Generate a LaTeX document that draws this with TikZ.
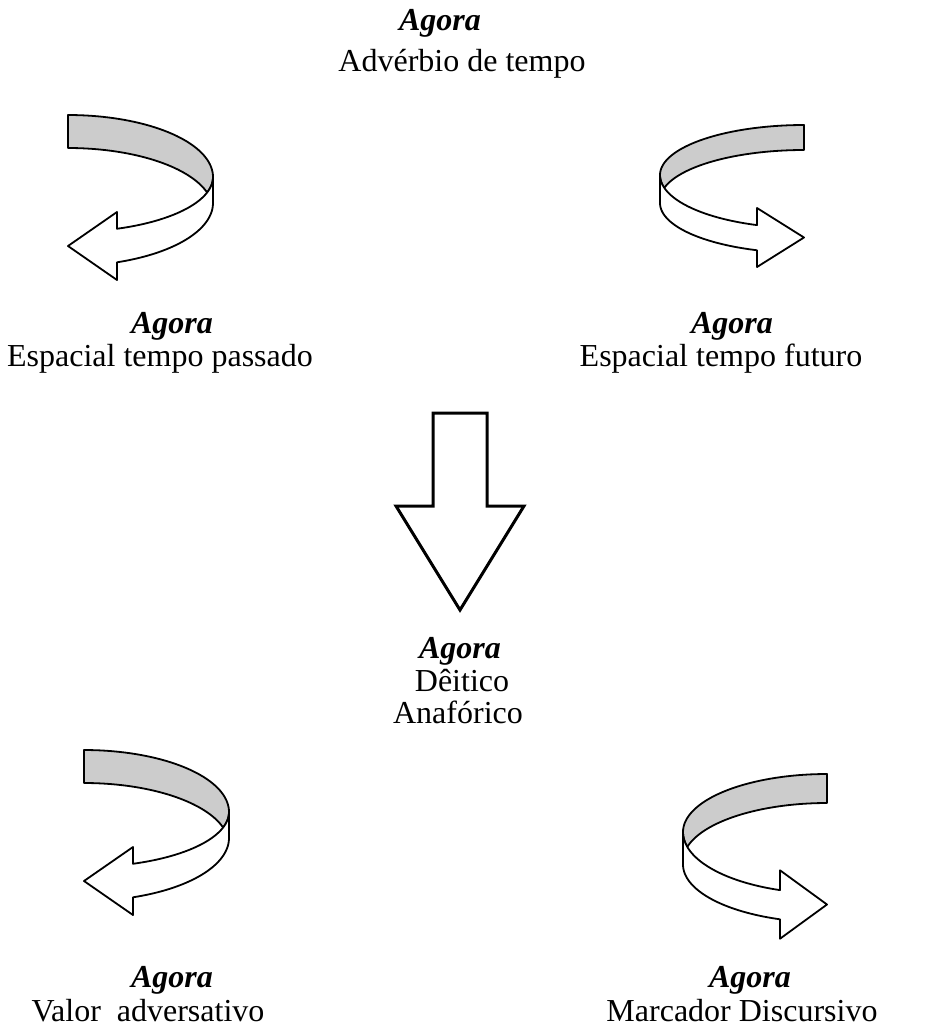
\documentclass[tikz,border=0pt]{standalone}
\usepackage{fontspec}
\setmainfont{Liberation Serif}
\definecolor{ribbongray}{RGB}{204,204,204}
\tikzset{
  ribbon/.style={draw=black, line width=1.8pt, line join=round},
  bigarrow/.style={draw=black, line width=3pt, line join=miter, fill=white},
  lbl/.style={anchor=base, inner sep=0pt, font=\fontsize{32}{34}\selectfont},
  ttl/.style={anchor=base, inner sep=0pt, font=\fontsize{32}{34}\selectfont\bfseries\itshape},
}
% #1 a, #2 b, #3 h, #4 bL, #5 hr, #6 bB, #7 hx, #8 barb1, #9 barb2
\newcommand\turnribbon[9]{%
  \pgfmathsetmacro\tw{asin(#3/(#2+#4))}%
  \pgfmathsetmacro\th{acos(#7/#1)}%
  \pgfmathsetmacro\tipy{(#8+#9)/2}%
  \draw[ribbon, fill=ribbongray] (0,0)
    -- plot[variable=\t, domain=90:0, samples=40] ({#1*cos(\t)},{#2-#2*sin(\t)})
    -- plot[variable=\t, domain=0:\tw, samples=15] ({#1*cos(\t)},{#2+#4*sin(\t)})
    -- plot[variable=\t, domain=\tw:90, samples=40] ({#1*cos(\t)},{#2+#3-#2*sin(\t)})
    -- cycle;
  \draw[ribbon, fill=white] (#1,#2) -- (#1,#2+#5)
    -- plot[variable=\t, domain=0:\th, samples=40] ({#1*cos(\t)},{#2+#5+#6*sin(\t)})
    -- (#7,#9) -- (0,\tipy) -- (#7,#8)
    -- plot[variable=\t, domain=\th:0, samples=40] ({#1*cos(\t)},{#2+#4*sin(\t)})
    -- cycle;
}
\begin{document}
\begin{tikzpicture}[x=1pt, y=-1pt]
\useasboundingbox (0,0) rectangle (945,1031);

% curved ribbons
\begin{scope}[shift={(68,115)}]
  \turnribbon{145}{62}{33}{55}{26}{63}{49}{97}{165}
\end{scope}
\begin{scope}[shift={(84,750)}]
  \turnribbon{145}{62}{33}{55}{26}{63}{49}{97}{165}
\end{scope}
\begin{scope}[shift={(804,125)}, xscale=-1]
  \turnribbon{144}{50}{25}{53}{28}{50}{47}{83}{142}
\end{scope}
\begin{scope}[shift={(827,774)}, xscale=-1, yscale=1.16]
  \turnribbon{144}{50}{25}{53}{28}{50}{47}{83}{142}
\end{scope}

% big down arrow
\draw[bigarrow] (433,413) -- (487,413) -- (487,506) -- (524,506) -- (460,610)
  -- (396,506) -- (433,506) -- cycle;

% labels
\node[ttl] (topA) at (440,30) {Agora};
\node[lbl] (topD) at (462,71) {Advérbio de tempo};

\node[ttl] (lA) at (172,333) {Agora};
\node[lbl] (lD) at (160,366) {Espacial tempo passado};

\node[ttl] (rA) at (732,333) {Agora};
\node[lbl] (rD) at (721,366) {Espacial tempo futuro};

\node[ttl] (cA) at (460,658) {Agora};
\node[lbl] (cD1) at (462,691) {Dêitico};
\node[lbl] (cD2) at (458,723) {Anafórico};

\node[ttl] (blA) at (172,987) {Agora};
\node[lbl] (blD) at (148,1021) {Valor\ \ adversativo};

\node[ttl] (brA) at (750,987) {Agora};
\node[lbl] (brD) at (742,1021) {Marcador Discursivo};
\end{tikzpicture}
\end{document}
